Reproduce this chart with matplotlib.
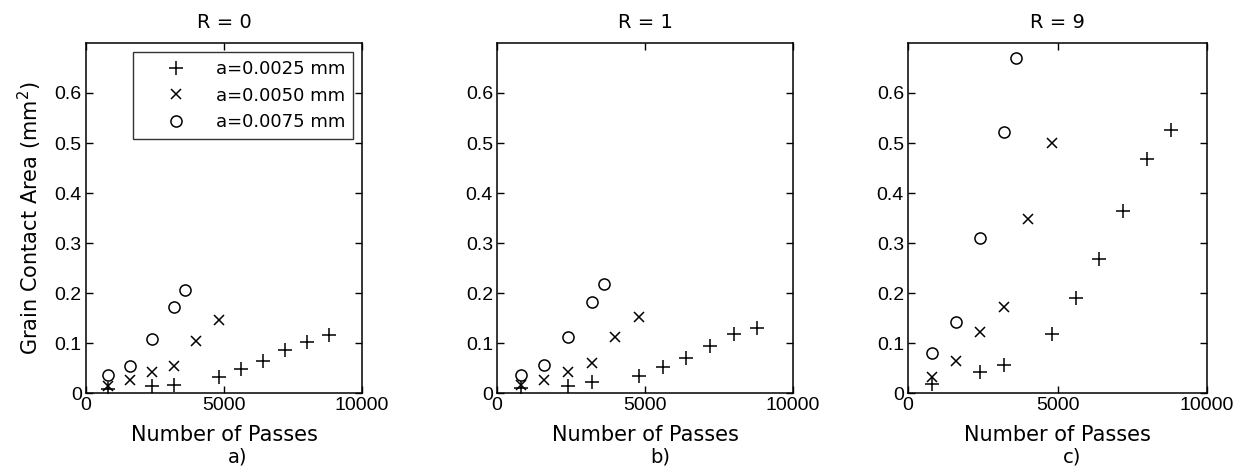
"""Grain contact area vs number of passes for three R values."""

import matplotlib

matplotlib.use("Agg")
import matplotlib.pyplot as plt

plt.rcParams["font.family"] = ["DejaVu Sans"]

panel_titles = ["R = 0", "R = 1", "R = 9"]
panel_tags = ["a)", "b)", "c)"]
series_labels = ["a=0.0025 mm", "a=0.0050 mm", "a=0.0075 mm"]

# passes for each radius
passes_small = [800, 2400, 3200, 4800, 5600, 6400, 7200, 8000, 8800]
passes_mid = [800, 1600, 2400, 3200, 4000, 4800]
passes_large = [800, 1600, 2400, 3200, 3600]

# contact area (mm^2), one list per panel
area_small = [
    [0.008, 0.015, 0.017, 0.033, 0.048, 0.065, 0.087, 0.103, 0.117],
    [0.010, 0.015, 0.022, 0.035, 0.052, 0.070, 0.094, 0.118, 0.130],
    [0.019, 0.042, 0.057, 0.119, 0.191, 0.269, 0.364, 0.468, 0.527],
]
area_mid = [
    [0.015, 0.027, 0.043, 0.054, 0.105, 0.147],
    [0.017, 0.027, 0.043, 0.060, 0.112, 0.153],
    [0.032, 0.065, 0.123, 0.172, 0.348, 0.501],
]
area_large = [
    [0.036, 0.055, 0.108, 0.173, 0.207],
    [0.037, 0.057, 0.113, 0.183, 0.218],
    [0.081, 0.143, 0.311, 0.522, 0.669],
]

fig = plt.figure(figsize=(12.38, 4.72), dpi=100)
boxes = [
    [0.0695, 0.167, 0.223, 0.742],
    [0.4015, 0.167, 0.239, 0.742],
    [0.7335, 0.167, 0.2415, 0.742],
]

for idx, box in enumerate(boxes):
    ax = fig.add_axes(box)
    ax.plot(passes_small, area_small[idx], "+", color="black", markersize=10,
            markeredgewidth=1.1, label=series_labels[0])
    ax.plot(passes_mid, area_mid[idx], "x", color="black", markersize=7,
            markeredgewidth=1.1, label=series_labels[1])
    ax.plot(passes_large, area_large[idx], "o", color="black", markersize=8,
            markerfacecolor="none", markeredgewidth=1.1, label=series_labels[2])
    ax.set_xlim(0, 10000)
    ax.set_ylim(0, 0.7)
    ax.set_xticks([0, 5000, 10000])
    ax.set_xticklabels(["0", "5000", "10000"])
    ax.set_yticks([0, 0.1, 0.2, 0.3, 0.4, 0.5, 0.6])
    ax.set_yticklabels(["0", "0.1", "0.2", "0.3", "0.4", "0.5", "0.6"])
    ax.tick_params(direction="in", top=True, right=True, length=5, width=1, pad=3)
    for lab in ax.get_xticklabels() + ax.get_yticklabels():
        lab.set_fontfamily("Liberation Sans")
        lab.set_fontsize(14)
    for spine in ax.spines.values():
        spine.set_linewidth(1.1)
    ax.set_title(panel_titles[idx], fontsize=14, pad=11)
    ax.set_xlabel("Number of Passes", fontsize=15, labelpad=8)
    ax.annotate(panel_tags[idx], xy=(0.55, 0), xycoords="axes fraction",
                xytext=(0, -46), textcoords="offset points",
                ha="center", va="center", fontsize=14)
    if idx == 0:
        ax.set_ylabel("Grain Contact Area (mm$^2$)", fontsize=15, labelpad=8)
        leg = ax.legend(loc="upper right", fontsize=13, frameon=True, fancybox=False,
                        edgecolor="black", handlelength=3.8, handletextpad=0.3,
                        borderaxespad=0.5, labelspacing=0.47, borderpad=0.45)
        leg.get_frame().set_linewidth(1.0)

fig.savefig("out.png", dpi=100)
